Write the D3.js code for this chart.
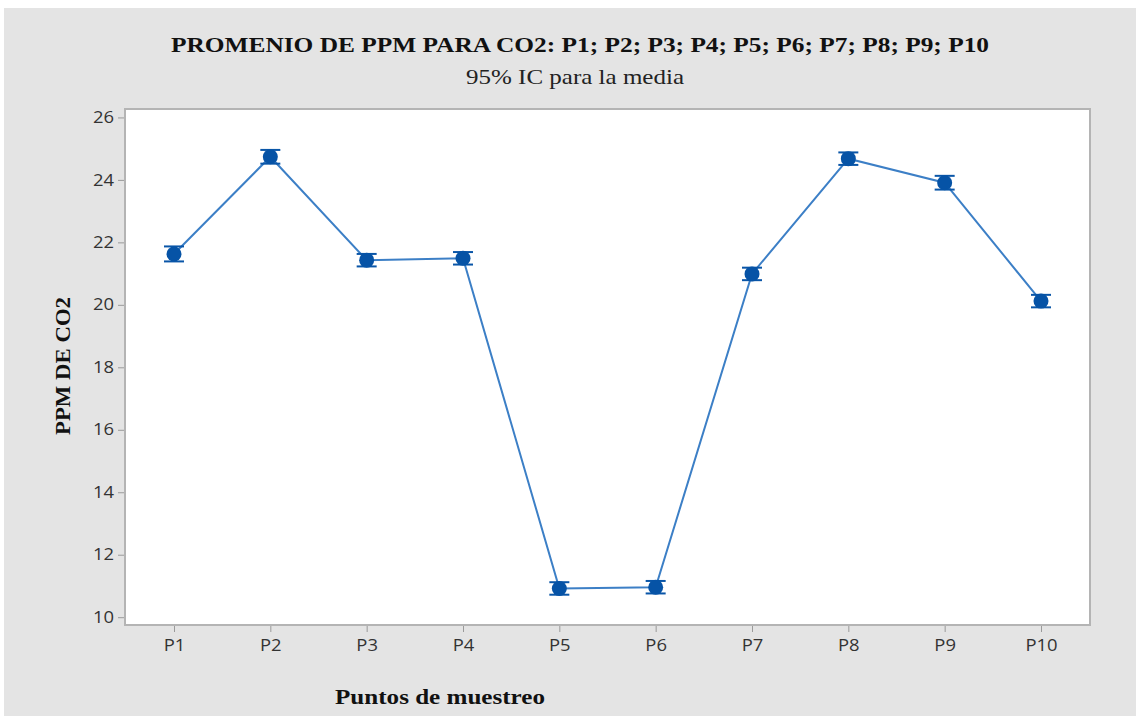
<!DOCTYPE html>
<html>
<head>
<meta charset="utf-8">
<script src="https://cdn.jsdelivr.net/npm/d3@7"></script>
<style>
  html, body { margin: 0; padding: 0; background: #fff; }
  #chart { width: 1138px; height: 716px; }
</style>
</head>
<body>
<div id="chart"></div>
<script>
const categories = ["P1", "P2", "P3", "P4", "P5", "P6", "P7", "P8", "P9", "P10"];
const means = [21.63, 24.74, 21.43, 21.49, 10.92, 10.96, 20.99, 24.68, 23.91, 20.12];
const ciHalf = [0.24, 0.22, 0.2, 0.2, 0.2, 0.2, 0.2, 0.2, 0.22, 0.2];
const yTicks = [10, 12, 14, 16, 18, 20, 22, 24, 26];

const width = 1138;
const height = 716;
const margin = { top: 109, right: 48, bottom: 91, left: 125 };
const innerWidth = width - margin.left - margin.right;
const innerHeight = height - margin.top - margin.bottom;

const svg = d3
  .select("#chart")
  .append("svg")
  .attr("width", width)
  .attr("height", height);

// grey panel
svg.append("rect")
  .attr("x", 4).attr("y", 8)
  .attr("width", width - 6).attr("height", height - 8)
  .attr("fill", "#e4e4e4");

const g = svg.append("g").attr("transform", `translate(${margin.left},${margin.top})`);

g.append("rect")
  .attr("width", innerWidth).attr("height", innerHeight)
  .attr("fill", "#fff")
  .attr("stroke", "#b4b4b4").attr("stroke-width", 2);

// scales
const x = d3.scalePoint().domain(categories).range([49, innerWidth - 49]);
const y = d3.scaleLinear().domain([9.75, 26.27]).range([innerHeight, 0]);

// stretch tick labels a bit wider, like the source
function widen(sel) {
  sel.each(function () {
    const w = this.getComputedTextLength();
    d3.select(this).attr("textLength", w * 1.15).attr("lengthAdjust", "spacingAndGlyphs");
  });
}

// axes
const xAxis = g.append("g")
  .attr("transform", `translate(0,${innerHeight + 1})`)
  .call(d3.axisBottom(x).tickSize(6).tickPadding(8));
xAxis.select(".domain").remove();
xAxis.selectAll("line").attr("stroke", "#9a9a9a");
xAxis.selectAll("text")
  .attr("font-family", "'Open Sans', 'DejaVu Sans', sans-serif")
  .attr("font-size", 16).attr("fill", "#333")
  .call(widen);

const yAxis = g.append("g")
  .attr("transform", "translate(-1,0)")
  .call(d3.axisLeft(y).tickValues(yTicks).tickSize(6).tickPadding(4));
yAxis.select(".domain").remove();
yAxis.selectAll("line").attr("stroke", "#9a9a9a");
yAxis.selectAll("text")
  .attr("font-family", "'Open Sans', 'DejaVu Sans', sans-serif")
  .attr("font-size", 16).attr("fill", "#333")
  .call(widen);

const pts = categories.map((c, i) => ({ c, m: means[i], h: ciHalf[i] }));

// connecting line
g.append("path")
  .datum(pts)
  .attr("fill", "none")
  .attr("stroke", "#3c7fc6")
  .attr("stroke-width", 2)
  .attr("d", d3.line().x((d) => x(d.c)).y((d) => y(d.m)));

// error bars
const eb = g.selectAll("g.eb").data(pts).join("g").attr("class", "eb");
eb.append("line")
  .attr("x1", (d) => x(d.c)).attr("x2", (d) => x(d.c))
  .attr("y1", (d) => y(d.m - d.h)).attr("y2", (d) => y(d.m + d.h))
  .attr("stroke", "#0a56a8").attr("stroke-width", 2);
[-1, 1].forEach((s) => {
  eb.append("line")
    .attr("x1", (d) => x(d.c) - 10).attr("x2", (d) => x(d.c) + 10)
    .attr("y1", (d) => y(d.m + s * d.h)).attr("y2", (d) => y(d.m + s * d.h))
    .attr("stroke", "#0a56a8").attr("stroke-width", 2);
});
eb.append("circle")
  .attr("cx", (d) => x(d.c)).attr("cy", (d) => y(d.m))
  .attr("r", 7.5).attr("fill", "#0653a6");

// titles
svg.append("text")
  .attr("x", 580).attr("y", 52)
  .attr("text-anchor", "middle")
  .attr("font-family", "'Liberation Serif', serif")
  .attr("font-weight", "bold").attr("font-size", 22).attr("fill", "#111")
  .attr("textLength", 818).attr("lengthAdjust", "spacingAndGlyphs")
  .text("PROMENIO DE PPM PARA CO2: P1; P2; P3; P4; P5; P6; P7; P8; P9; P10");

svg.append("text")
  .attr("x", 575).attr("y", 84)
  .attr("text-anchor", "middle")
  .attr("font-family", "'Liberation Serif', serif")
  .attr("font-size", 21).attr("fill", "#222")
  .attr("textLength", 218).attr("lengthAdjust", "spacingAndGlyphs")
  .text("95% IC para la media");

svg.append("text")
  .attr("transform", "translate(70,366) rotate(-90)")
  .attr("text-anchor", "middle")
  .attr("font-family", "'Liberation Serif', serif")
  .attr("font-weight", "bold").attr("font-size", 20).attr("fill", "#111")
  .attr("textLength", 138).attr("lengthAdjust", "spacingAndGlyphs")
  .text("PPM DE CO2");

svg.append("text")
  .attr("x", 440).attr("y", 704)
  .attr("text-anchor", "middle")
  .attr("font-family", "'Liberation Serif', serif")
  .attr("font-weight", "bold").attr("font-size", 22).attr("fill", "#111")
  .attr("textLength", 210).attr("lengthAdjust", "spacingAndGlyphs")
  .text("Puntos de muestreo");
</script>
</body>
</html>
